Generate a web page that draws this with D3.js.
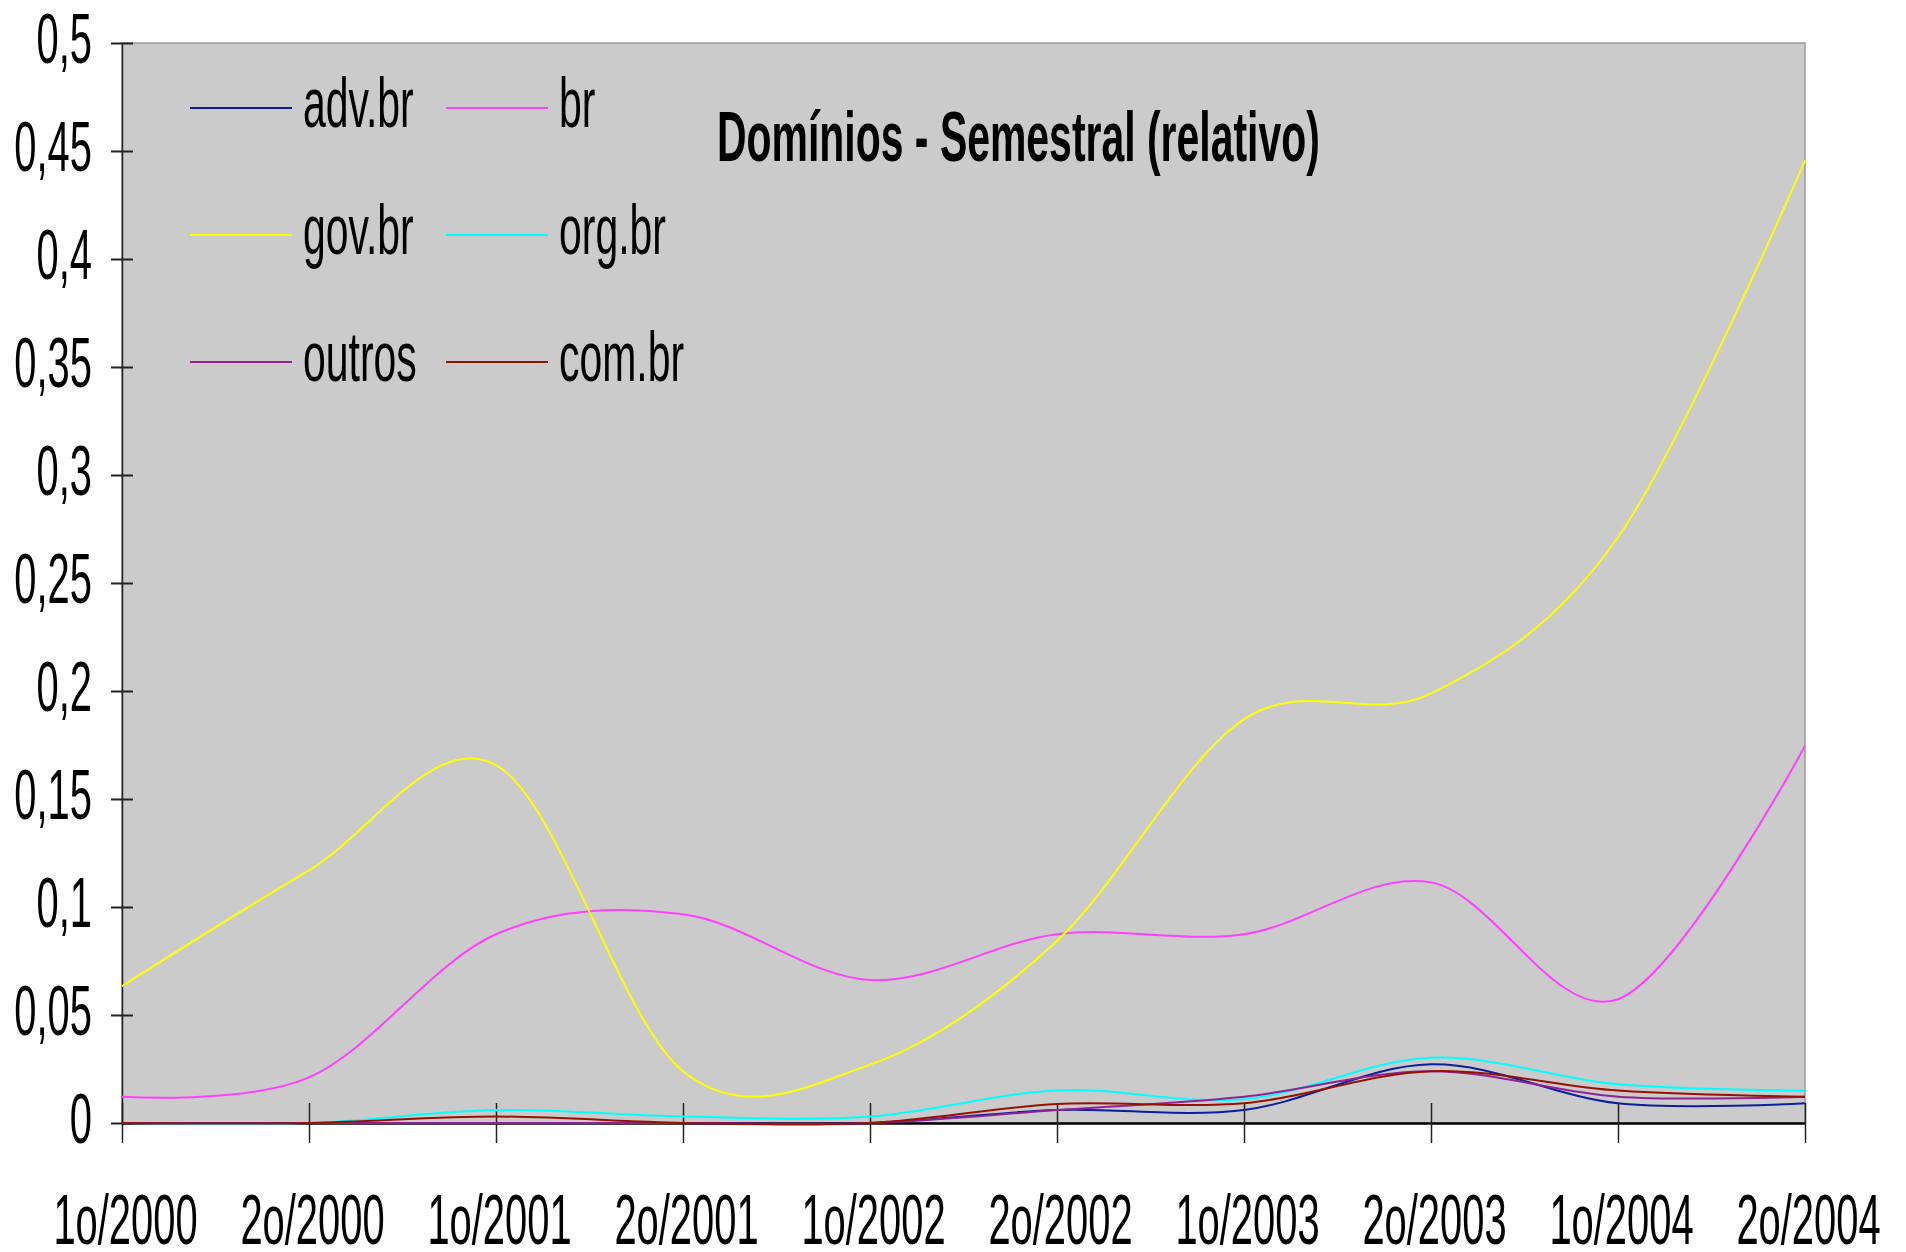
<!DOCTYPE html>
<html>
<head>
<meta charset="utf-8">
<script src="https://cdn.jsdelivr.net/npm/d3@7"></script>
<style>
  body { margin: 0; background: #fff; }
  svg { display: block; font-family: "Liberation Sans", Arial, sans-serif; }
</style>
</head>
<body>
<div id="chart"></div>
<script>
const width = 1906;
const height = 1252;
const margin = {top: 43, left: 122, bottom: 129, right: 101};

// semesters
const categories = ['1o/2000', '2o/2000', '1o/2001', '2o/2001', '1o/2002',
  '2o/2002', '1o/2003', '2o/2003', '1o/2004', '2o/2004'];

// relative share per semester
const advBr   = [0, 0, 0, 0, 0, 0.006, 0.006, 0.0272, 0.0091, 0.0091];
const br      = [0.0122, 0.0211, 0.0874, 0.0966, 0.0662, 0.0874, 0.0874, 0.1114, 0.0573, 0.1747];
const govBr   = [0.0634, 0.117, 0.1657, 0.024, 0.027, 0.0843, 0.1869, 0.1989, 0.2712, 0.4457];
const orgBr   = [0, 0, 0.006, 0.003, 0.003, 0.0151, 0.011, 0.0302, 0.0179, 0.015];
const outros  = [0, 0, 0, 0, 0, 0.006, 0.0122, 0.024, 0.0122, 0.0122];
const comBr   = [0, 0, 0.003, 0, 0, 0.0088, 0.0091, 0.024, 0.015, 0.0122];

const yTicks = [0, 0.05, 0.1, 0.15, 0.2, 0.25, 0.3, 0.35, 0.4, 0.45, 0.5];

const title = 'Domínios - Semestral (relativo)';

const series = [
  {name: 'adv.br', values: advBr,  color: '#0b1f9c'},
  {name: 'br',     values: br,     color: '#ff40ff'},
  {name: 'gov.br', values: govBr,  color: '#ffff00'},
  {name: 'org.br', values: orgBr,  color: '#00ffff'},
  {name: 'outros', values: outros, color: '#8e2296'},
  {name: 'com.br', values: comBr,  color: '#961200'}
];

const squeeze = 0.57; // the original font is very condensed

const x = d3.scalePoint()
  .domain(categories)
  .range([margin.left, width - margin.right]);

const y = d3.scaleLinear()
  .domain([0, 0.5])
  .range([height - margin.bottom, margin.top]);

const ptBR = d3.formatLocale({decimal: ',', thousands: '.', grouping: [3], currency: ['R$', '']});
const fmt = ptBR.format('~g');

const svg = d3.select('#chart').append('svg')
  .attr('width', width)
  .attr('height', height);

// plot area
svg.append('rect')
  .attr('x', margin.left)
  .attr('y', margin.top)
  .attr('width', width - margin.left - margin.right)
  .attr('height', height - margin.top - margin.bottom)
  .attr('fill', '#cbcbcb')
  .attr('stroke', '#9a9a9a')
  .attr('stroke-width', 1.5);

const xAxis = g => g
  .attr('transform', `translate(0, ${height - margin.bottom})`)
  .call(d3.axisBottom(x).tickSize(40).tickSizeOuter(0))
  .call(g => g.select('.domain').attr('stroke', '#000').attr('stroke-width', 2.5))
  .call(g => g.selectAll('.tick line').attr('y1', -20).attr('y2', 20).attr('stroke', '#222').attr('stroke-width', 1.5))
  .call(g => g.selectAll('.tick text')
    .attr('y', 0).attr('dy', null)
    .attr('text-anchor', 'middle')
    .attr('transform', `translate(3, 121) scale(${squeeze}, 1)`));

const yAxis = g => g
  .attr('transform', `translate(${margin.left}, 0)`)
  .call(d3.axisLeft(y).tickValues(yTicks).tickFormat(fmt).tickSize(22).tickSizeOuter(0))
  .call(g => g.select('.domain').attr('stroke', '#222').attr('stroke-width', 1.5))
  .call(g => g.selectAll('.tick line').attr('x1', 11).attr('x2', -11).attr('stroke', '#222').attr('stroke-width', 2))
  .call(g => g.selectAll('.tick text')
    .attr('x', 0).attr('dy', null)
    .attr('text-anchor', 'end')
    .attr('transform', `translate(-30, 19) scale(${squeeze}, 1)`));

svg.append('g').call(xAxis)
  .attr('font-family', null).attr('font-size', 70).attr('fill', '#000');
svg.append('g').call(yAxis)
  .attr('font-family', null).attr('font-size', 70).attr('fill', '#000');

// smoothed lines, like the spreadsheet "smoothed line" option
const line = d3.line()
  .x((d, i) => x(categories[i]))
  .y(d => y(d))
  .curve(d3.curveCardinal.tension(0));

svg.append('g')
  .selectAll('path').data(series).enter().append('path')
  .attr('d', d => line(d.values))
  .attr('fill', 'none')
  .attr('stroke', d => d.color)
  .attr('stroke-width', 2)
  .attr('stroke-linejoin', 'round');

// legend, two columns
const legend = svg.append('g');
const leg = legend.selectAll('g').data(series).enter().append('g')
  .attr('transform', (d, i) => `translate(${i % 2 === 0 ? 190 : 446}, ${108 + Math.floor(i / 2) * 127})`);

leg.append('line')
  .attr('x1', 0).attr('x2', 102)
  .attr('stroke', d => d.color)
  .attr('stroke-width', 2);

leg.append('text')
  .attr('transform', `translate(113, 19) scale(0.585, 1)`)
  .attr('font-size', 70)
  .text(d => d.name);

svg.append('text')
  .attr('transform', `translate(717, 161) scale(0.585, 1)`)
  .attr('font-size', 70)
  .attr('font-weight', 'bold')
  .text(title);
</script>
</body>
</html>
